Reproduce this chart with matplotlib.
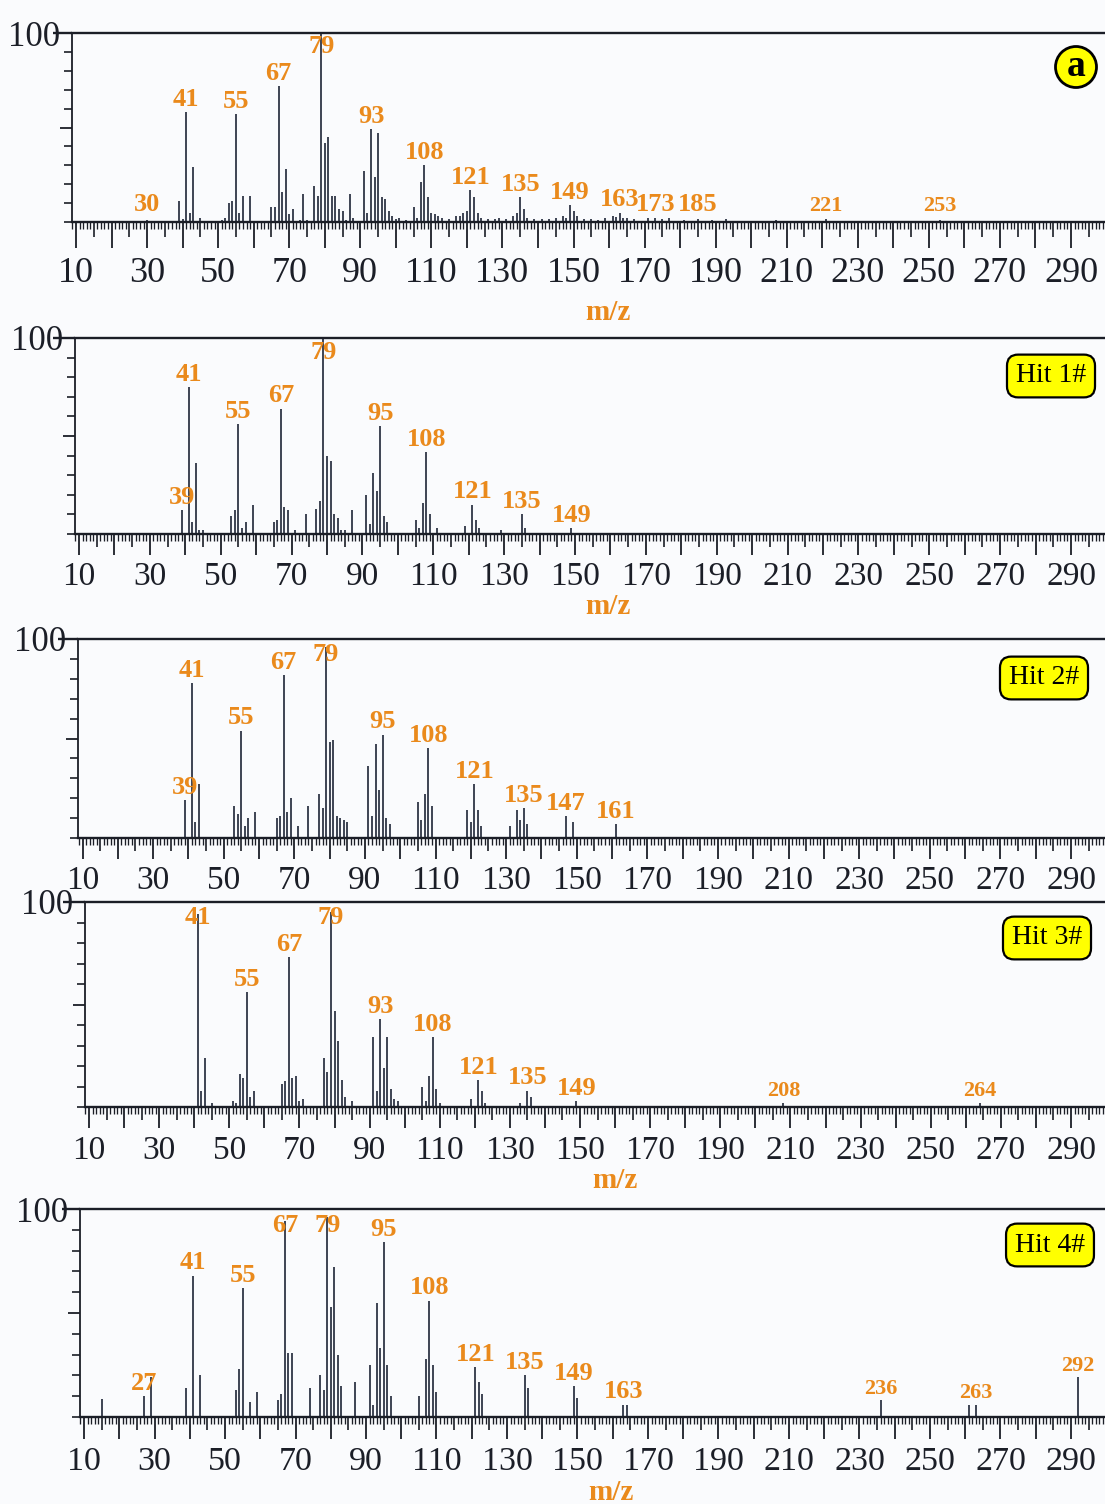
import matplotlib.pyplot as plt
from matplotlib.ticker import MultipleLocator, FuncFormatter

plt.rcParams['font.family'] = ['Liberation Serif', 'DejaVu Serif']

# Sample spectrum (a): m/z and relative abundance (%)
mz_a = [30, 39, 40, 41, 42, 43, 45,
        51, 52, 53, 54, 55, 56, 57, 59,
        65, 66, 67, 68, 69, 70, 71, 73, 74, 75,
        77, 78, 79, 80, 81, 82, 83, 84, 85, 86, 87, 88,
        91, 92, 93, 94, 95, 96, 97, 98, 99, 100, 101, 103,
        105, 106, 107, 108, 109, 110, 111, 112, 113, 115,
        117, 118, 119, 120, 121, 122, 123, 124, 126, 128, 129, 131,
        133, 134, 135, 136, 137, 139, 141, 143, 145,
        147, 148, 149, 150, 151, 153, 155, 157, 159,
        161, 162, 163, 164, 165, 167, 171, 173, 175, 177, 181, 185, 189, 193,
        207, 221, 253]
int_a = [1, 11, 1.5, 58, 5, 29, 2,
         1, 2, 10, 11, 57, 5, 14, 14,
         8, 8, 72, 16, 28, 4, 7, 1, 15, 1,
         19, 14, 100, 42, 45, 14, 14, 7, 6, 1, 15, 2,
         27, 5, 49, 24, 47, 13, 12, 6, 3, 1.5, 2, 1,
         8, 2, 21, 30, 13, 5, 4, 3, 2, 1.5,
         3, 3, 5, 6, 17, 13, 5, 2, 1.5, 1.5, 2, 1.5,
         3, 5, 13, 7, 2, 1.5, 1.5, 1.5, 2,
         3, 2, 9, 6, 3, 1.5, 1.5, 1, 2,
         3, 2.5, 5, 2, 2, 1.5, 2, 2, 1.5, 2, 1, 1.5, 1, 1.5,
         1, 1.5, 1]
lab_a = [30, 41, 55, 67, 79, 93, 108, 121, 135, 149, 163, 173, 185, 221, 253]

# Library hit 1
mz_h1 = [39, 41, 42, 43, 44, 45,
         53, 54, 55, 56, 57, 59,
         65, 66, 67, 68, 69, 71, 74,
         77, 78, 79, 80, 81, 82, 83, 84, 85, 87,
         91, 92, 93, 94, 95, 96, 97,
         105, 106, 107, 108, 109, 111,
         119, 121, 122, 123, 129, 135, 136, 149]
int_h1 = [12, 75, 6, 36, 2, 2,
          9, 12, 56, 3, 6, 15,
          6, 7, 64, 14, 12, 2, 10,
          13, 17, 100, 40, 37, 10, 8, 2, 2, 12,
          20, 5, 31, 22, 55, 9, 6,
          7, 3, 16, 42, 10, 3,
          4, 15, 7, 3, 2, 10, 3, 3]
lab_h1 = [39, 41, 55, 67, 79, 95, 108, 121, 135, 149]

# Library hit 2
mz_h2 = [39, 41, 42, 43,
         53, 54, 55, 56, 57, 59,
         65, 66, 67, 68, 69, 71, 74,
         77, 78, 79, 80, 81, 82, 83, 84, 85,
         91, 92, 93, 94, 95, 96, 97,
         105, 106, 107, 108, 109,
         119, 120, 121, 122, 123,
         131, 133, 134, 135, 136,
         147, 149, 161]
int_h2 = [19, 78, 8, 27,
          16, 12, 54, 6, 10, 13,
          10, 11, 82, 13, 20, 6, 16,
          22, 15, 96, 48, 49, 11, 10, 9, 8,
          36, 11, 47, 24, 52, 10, 7,
          18, 9, 22, 45, 16,
          14, 8, 27, 14, 6,
          6, 14, 9, 15, 7,
          11, 8, 7]
lab_h2 = [39, 41, 55, 67, 79, 95, 108, 121, 135, 147, 161]

# Library hit 3
mz_h3 = [41, 42, 43, 45,
         51, 52, 53, 54, 55, 56, 57,
         65, 66, 67, 68, 69, 70, 71,
         77, 78, 79, 80, 81, 82, 83, 85,
         91, 92, 93, 94, 95, 96, 97, 98,
         105, 106, 107, 108, 109, 110,
         119, 121, 122, 123,
         133, 135, 136, 149, 208, 264]
int_h3 = [94, 8, 24, 2,
          3, 2, 16, 14, 56, 5, 8,
          11, 12.5, 73, 14, 15, 3, 4,
          24, 17, 95, 47, 32, 13, 5, 3,
          34, 8, 43, 19, 34, 9, 4, 3,
          10, 3, 15, 34, 9, 2,
          4, 13, 8, 2,
          2, 8, 5, 3, 2, 2]
lab_h3 = [41, 55, 67, 79, 93, 108, 121, 135, 149, 208, 264]

# Library hit 4
mz_h4 = [15, 27, 29,
         39, 41, 43,
         53, 54, 55, 57, 59,
         65, 66, 67, 68, 69, 74,
         77, 78, 79, 80, 81, 82, 83, 87,
         91, 92, 93, 94, 95, 96, 97,
         105, 107, 108, 109, 110,
         121, 122, 123, 135, 136, 149, 150, 163, 164,
         236, 261, 263, 292]
int_h4 = [8.5, 10, 19,
          14, 68, 20,
          13, 23, 62, 7, 12,
          8, 11, 94, 31, 31, 14,
          20, 13, 96, 53, 72, 30, 15, 17,
          25, 6, 55, 33, 84, 25, 10,
          10, 28, 56, 25, 12,
          24, 17, 11, 20, 14, 15, 9, 6, 6,
          8, 6, 6, 19]
lab_h4 = [27, 41, 55, 67, 79, 95, 108, 121, 135, 149, 163, 236, 263, 292]

spectra = [(mz_a, int_a, lab_a), (mz_h1, int_h1, lab_h1), (mz_h2, int_h2, lab_h2),
           (mz_h3, int_h3, lab_h3), (mz_h4, int_h4, lab_h4)]
badges = ['a', 'Hit 1#', 'Hit 2#', 'Hit 3#', 'Hit 4#']
xticklabels = [str(v) for v in range(10, 300, 20)]

W, H = 1105, 1504
ink = '#1b1e27'
bar_color = '#272d3e'
orange = '#ea8a1c'

# panel frames in pixels: y axis, m/z 10, m/z 290, top line, baseline
yaxis_px = [72, 75, 78, 85, 80]
x10_px = [76, 79, 82.5, 89, 84]
x290_px = [1071, 1071, 1071, 1071, 1071]
top_px = [33, 338, 639, 902, 1209]
base_px = [222, 534, 838, 1107, 1417]
top_tick = [13.5, 15.5, 14.5, 15.5, 13]
xtick_len = [18.5, 15, 15, 15, 15.5]
xlab_size = [26, 24, 24, 24, 24.5]
xlab_pad = [6.5, 5, 5, 5.5, 5.5]

badge_xy = [(1076, 67), (1051, 376), (1044, 678), (1047, 938), (1050, 1245)]
mz_label_xy = [(608, 313), (608, 607), None, (615, 1180), (611, 1492)]

fig = plt.figure(figsize=(W / 100, H / 100), dpi=100)
fig.patch.set_facecolor('#fafbfd')

for i, (mz, inten, labels) in enumerate(spectra):
    scale = (x290_px[i] - x10_px[i]) / 280
    x0 = 10 - (x10_px[i] - yaxis_px[i]) / scale
    x1 = 10 + (W - x10_px[i]) / scale
    ax = fig.add_axes([yaxis_px[i] / W, 1 - base_px[i] / H,
                       1 - yaxis_px[i] / W, (base_px[i] - top_px[i]) / H])
    ax.set_facecolor('none')
    ax.set_xlim(x0, x1)
    ax.set_ylim(0, 100)

    ax.vlines(mz, 0, inten, color=bar_color, lw=1.25)

    # peak labels sit just above the peak, kept below the top line
    for m in labels:
        h = inten[mz.index(m)]
        y = min(max(h, 2.5), 86) + 0.6
        ax.text(m, y, str(m), ha='center', va='bottom', color=orange,
                fontsize=19 if m < 200 else 16, fontweight='bold')

    for side in ['top', 'bottom']:
        ax.spines[side].set_linewidth(1.7)
        ax.spines[side].set_color(ink)
    ax.spines['left'].set_linewidth(1.3)
    ax.spines['left'].set_color(ink)
    ax.spines['right'].set_visible(False)

    # y axis: 10 % ticks, longer at 50, the 100 tick joins the top line
    ax.set_yticks([50, 100], ['', '100'])
    ax.yaxis.set_minor_locator(MultipleLocator(10))
    ax.tick_params(axis='y', which='major', length=8.5, width=1.3, color=ink,
                   labelsize=25, labelcolor=ink, pad=0)
    ax.tick_params(axis='y', which='minor', length=5.5, width=1.2, color=ink)
    ax.yaxis.get_major_ticks()[1].tick1line.set_markersize(top_tick[i])
    ax.yaxis.get_major_ticks()[1].tick1line.set_markeredgewidth(1.7)

    # x axis: ruler style ticks every 1, 5 and 10, labels every 20
    ax.xaxis.set_major_locator(MultipleLocator(10))
    ax.xaxis.set_minor_locator(MultipleLocator(1))
    ax.xaxis.set_major_formatter(FuncFormatter(
        lambda v, p: f'{v:.0f}' if f'{v:.0f}' in xticklabels else ''))
    ax.tick_params(axis='x', which='major', length=xtick_len[i], width=1.3, color=ink,
                   labelsize=xlab_size[i], labelcolor=ink, pad=xlab_pad[i])
    ax.tick_params(axis='x', which='minor', length=5.2, width=0.95, color=ink)
    locs = ax.xaxis.get_minorticklocs()
    for loc, tick in zip(locs, ax.xaxis.get_minor_ticks(len(locs))):
        if round(loc) % 5 == 0:
            tick.tick1line.set_markersize(xtick_len[i] * 0.6)
            tick.tick1line.set_markeredgewidth(1.2)

    bx, by = badge_xy[i]
    if i == 0:
        fig.text(bx / W, 1 - by / H, badges[i], fontsize=27, fontweight='bold',
                 ha='center', va='center', color='black',
                 bbox=dict(boxstyle='circle,pad=0.08', fc='#ffff00', ec='black', lw=2))
    else:
        fig.text(bx / W, 1 - by / H, badges[i], fontsize=20, ha='center', va='center',
                 color='black',
                 bbox=dict(boxstyle='round,pad=0.32,rounding_size=0.4',
                           fc='#ffff00', ec='black', lw=1.6))

    if mz_label_xy[i] is not None:
        lx, ly = mz_label_xy[i]
        fig.text(lx / W, 1 - ly / H, 'm/z', fontsize=21, fontweight='bold',
                 color=orange, ha='center', va='center')

plt.savefig('out.png', dpi=100, facecolor=fig.get_facecolor())
